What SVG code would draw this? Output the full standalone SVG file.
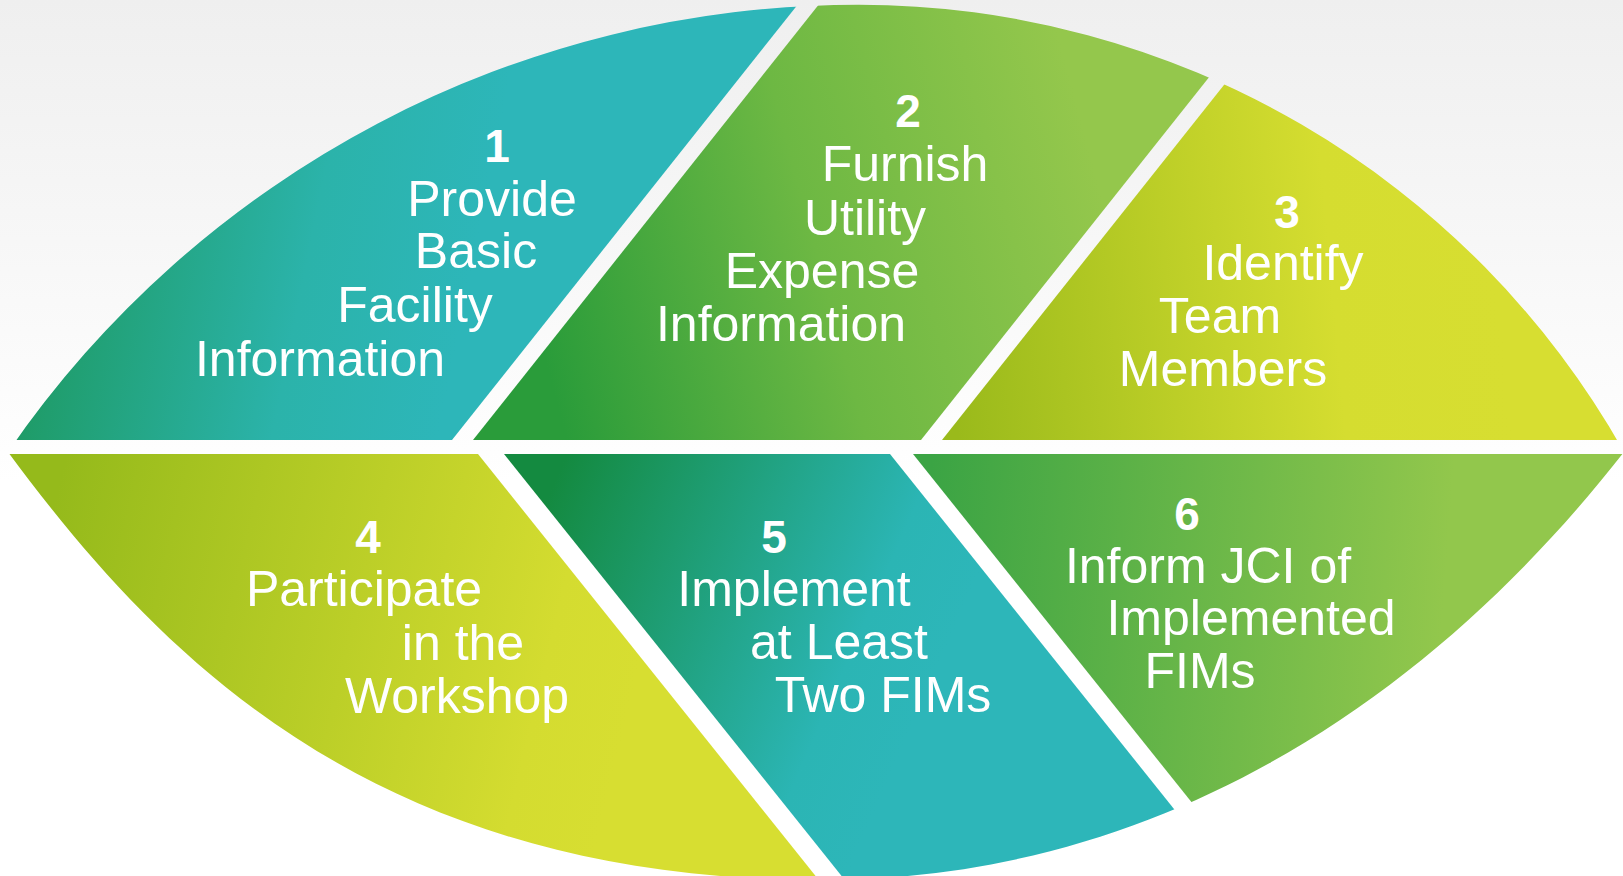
<svg xmlns="http://www.w3.org/2000/svg" width="1623" height="876" viewBox="0 0 1623 876">
<style>
.t{font-family:"Liberation Sans",Arial,sans-serif;font-size:50px;fill:#ffffff;text-anchor:middle}
.n{font-family:"Liberation Sans",Arial,sans-serif;font-size:46px;font-weight:bold;fill:#ffffff;text-anchor:middle}
</style>
<defs>
<linearGradient id="bg" x1="0" y1="0" x2="0" y2="876" gradientUnits="userSpaceOnUse">
<stop offset="0" stop-color="#efefef"/><stop offset="0.55" stop-color="#ffffff"/>
</linearGradient>
<clipPath id="lens">
<path d="M8,452 A1031.6,1031.6 0 0 1 858,4.8 A878.1,878.1 0 0 1 1624,452 C1439.2,688.4 1171,880 821,880 C371,880 156.8,653 8,452 Z"/>
</clipPath>
<linearGradient id="g1" x1="60" y1="250" x2="460" y2="330" gradientUnits="userSpaceOnUse">
<stop offset="0" stop-color="#1f9c69"/><stop offset="0.6" stop-color="#2bb3aa"/><stop offset="1" stop-color="#2db6b9"/>
</linearGradient>
<linearGradient id="g2" x1="540" y1="340" x2="1100" y2="190" gradientUnits="userSpaceOnUse">
<stop offset="0" stop-color="#2a9c3a"/><stop offset="0.5" stop-color="#6db843"/><stop offset="1" stop-color="#94c74c"/>
</linearGradient>
<linearGradient id="g3" x1="950" y1="350" x2="1500" y2="300" gradientUnits="userSpaceOnUse">
<stop offset="0" stop-color="#9aba1b"/><stop offset="0.7" stop-color="#d5dd30"/><stop offset="1" stop-color="#d7de31"/>
</linearGradient>
<linearGradient id="g4" x1="60" y1="480" x2="650" y2="620" gradientUnits="userSpaceOnUse">
<stop offset="0" stop-color="#95ba1b"/><stop offset="0.85" stop-color="#d4dc30"/><stop offset="1" stop-color="#d7de31"/>
</linearGradient>
<linearGradient id="g5" x1="560" y1="470" x2="950" y2="640" gradientUnits="userSpaceOnUse">
<stop offset="0" stop-color="#148a40"/><stop offset="0.8" stop-color="#2bb5b4"/><stop offset="1" stop-color="#2db6b9"/>
</linearGradient>
<linearGradient id="g6" x1="930" y1="480" x2="1450" y2="520" gradientUnits="userSpaceOnUse">
<stop offset="0" stop-color="#3ba444"/><stop offset="1" stop-color="#92c74c"/>
</linearGradient>
</defs>
<rect x="0" y="0" width="1623" height="876" fill="url(#bg)"/>
<g id="node1">
<polygon points="-10,-10 809.3,-10 452,440 -10,440" fill="url(#g1)" clip-path="url(#lens)"/>
<text class="n" x="497" y="162">1</text>
<text class="t" x="492" y="216">Provide</text>
<text class="t" x="476" y="268">Basic</text>
<text class="t" x="415" y="322">Facility</text>
<text class="t" x="320" y="376">Information</text>
</g>
<g id="node2">
<polygon points="830.3,-10 1278.3,-10 921,440 473,440" fill="url(#g2)" clip-path="url(#lens)"/>
<text class="n" x="908" y="127">2</text>
<text class="t" x="905" y="181">Furnish</text>
<text class="t" x="865" y="235">Utility</text>
<text class="t" x="822" y="288">Expense</text>
<text class="t" x="781" y="341">Information</text>
</g>
<g id="node3">
<polygon points="1299.3,-10 1640,-10 1640,440 942,440" fill="url(#g3)" clip-path="url(#lens)"/>
<text class="n" x="1287" y="228">3</text>
<text class="t" x="1283" y="280">Identify</text>
<text class="t" x="1220" y="333">Team</text>
<text class="t" x="1223" y="386">Members</text>
</g>
<g id="node4">
<polygon points="-10,454 478,454 826.8,890 -10,890" fill="url(#g4)" clip-path="url(#lens)"/>
<text class="n" x="368" y="553">4</text>
<text class="t" x="364" y="606">Participate</text>
<text class="t" x="463" y="660">in the</text>
<text class="t" x="457" y="713">Workshop</text>
</g>
<g id="node5">
<polygon points="504,454 890,454 1238.8,890 852.8,890" fill="url(#g5)" clip-path="url(#lens)"/>
<text class="n" x="774" y="553">5</text>
<text class="t" x="794" y="606">Implement</text>
<text class="t" x="839" y="659">at Least</text>
<text class="t" x="883" y="712">Two FIMs</text>
</g>
<g id="node6">
<polygon points="913,454 1640,454 1640,890 1261.8,890" fill="url(#g6)" clip-path="url(#lens)"/>
<text class="n" x="1187" y="530">6</text>
<text class="t" x="1208" y="583">Inform JCI of</text>
<text class="t" x="1251" y="635">Implemented</text>
<text class="t" x="1200" y="688">FIMs</text>
</g>
<g id="connectors"/>
</svg>
